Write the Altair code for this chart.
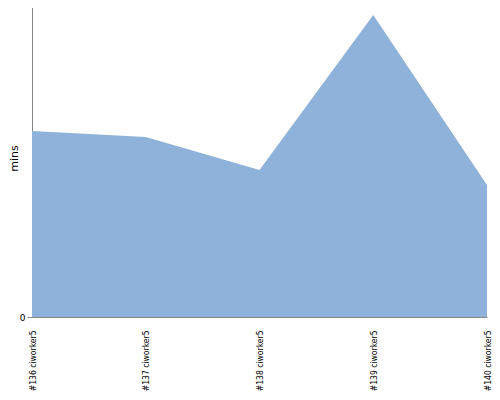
import altair as alt
import pandas as pd

builds = ["#136 ciworker5", "#137 ciworker5", "#138 ciworker5", "#139 ciworker5", "#140 ciworker5"]
mins = [186, 180, 147, 302, 132]

df = pd.DataFrame({"build": builds, "mins": mins})

chart = alt.Chart(df).mark_area(color="#8FB2DA", opacity=1, interpolate="linear").encode(
    x=alt.X("build:N", sort=builds,
            scale=alt.Scale(type="point", padding=0),
            axis=alt.Axis(title=None, labelAngle=270, ticks=False, labelFontSize=8.5,
                          labelFont="DejaVu Sans Condensed", labelColor="#000000", labelPadding=13,
                          domainColor="#888888", grid=False)),
    y=alt.Y("mins:Q", scale=alt.Scale(domain=[0, 317], nice=False),
            axis=alt.Axis(values=[0], title="mins", titleFontWeight="normal", titleFontSize=11,
                          titleFont="DejaVu Sans", titleColor="#000000",
                          titleX=-13, titleY=158, titleAngle=270, titleBaseline="bottom",
                          titleAlign="center",
                          labelFontSize=9, labelFont="DejaVu Sans", labelColor="#000000",
                          tickSize=5, tickColor="#888888", domainColor="#888888", grid=False)),
).properties(
    width=455, height=317,
    autosize=alt.AutoSizeParams(type="none"),
    padding={"left": 24, "top": -8, "right": 5, "bottom": 75},
).configure_view(stroke=None)

chart.save("out.html", embed_options={"renderer": "svg", "actions": False})
